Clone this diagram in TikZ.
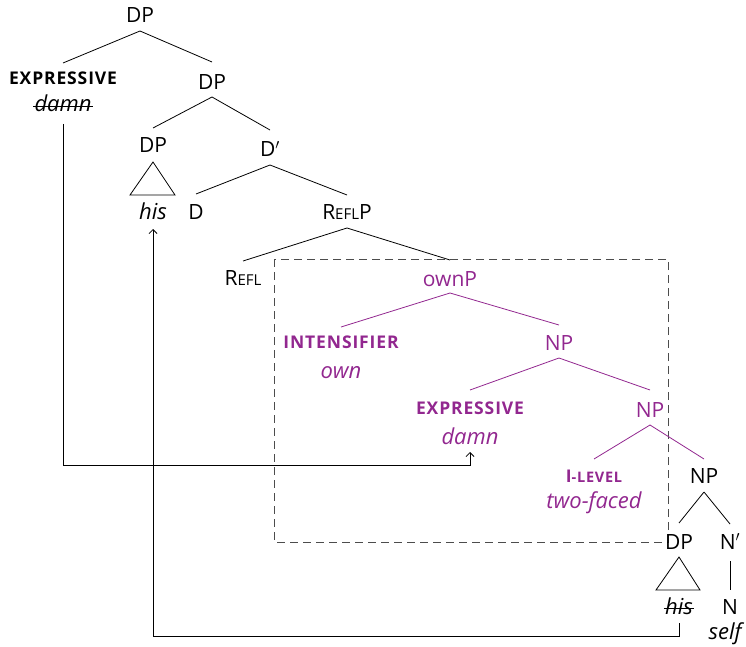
\documentclass[tikz,border=0pt]{standalone}
\usepackage{fontspec}
\setmainfont{Open Sans}
\usetikzlibrary{arrows.meta}
\definecolor{pur}{RGB}{146,39,143}
\newcommand{\reg}{\fontsize{21}{25}\selectfont}
\newcommand{\ital}{\fontsize{22}{26}\selectfont\itshape}
\newcommand{\lab}{\fontsize{17.5}{20}\selectfont\bfseries\addfontfeature{LetterSpace=5}}
\newcommand{\smc}{\fontsize{15}{17}\selectfont}
\newcommand{\bsmc}{\fontsize{14.5}{16}\selectfont\bfseries\addfontfeature{LetterSpace=5}}
\tikzset{
  lbl/.style={anchor=base, inner sep=0pt, font=\reg},
  cat/.style={anchor=base, inner sep=0pt, font=\lab},
  wrd/.style={anchor=base, inner sep=0pt, font=\ital},
  tree/.style={line width=0.8pt},
  mv/.style={line width=0.8pt, -{Straight Barb[length=4pt,width=8pt]}},
  box/.style={draw=black!70, line width=0.8pt, dash pattern=on 8pt off 5pt},
  strike/.style={line width=0.8pt},
  tri/.style={draw, line width=0.8pt}
}
\begin{document}
\begin{tikzpicture}[x=1pt,y=-1pt]
\useasboundingbox (0,0) rectangle (746,647);
% dashed box
\draw[box] (274,259) rectangle (668,542);
% black nodes
\node[lbl] (dp1) at (140,23) {DP};
\node[cat] (ex1) at (63,85) {EXPRESSIVE};
\node[wrd] (dm1) at (63,112) {damn};
\node[lbl] (dp2) at (212,90) {DP};
\node[lbl] (dp3) at (153,153) {DP};
\node[wrd] (his1) at (153,219) {his};
\node[lbl] (dbar) at (270,157) {D$'$};
\node[lbl] (d) at (196,219) {D};
\node[lbl] (reflp) at (347,219) {R{\smc EFL}P};
\node[lbl] (refl) at (243,285) {R{\smc EFL}};
% purple nodes
\node[lbl, text=pur] (ownp) at (450,286) {ownP};
\node[cat, text=pur] (int) at (341,348) {INTENSIFIER};
\node[wrd, text=pur] (own) at (341,378) {own};
\node[lbl, text=pur] (np1) at (559,350) {NP};
\node[cat, text=pur] (ex2) at (470,414) {EXPRESSIVE};
\node[wrd, text=pur] (dm2) at (470,444) {damn};
\node[lbl, text=pur] (np2) at (650,417) {NP};
\node[cat, text=pur] (ilev) at (594,482) {I{\bsmc -LEVEL}};
\node[wrd, text=pur] (two) at (594,508) {two-faced};
% lower black
\node[lbl] (np3) at (704,483) {NP};
\node[lbl] (dp4) at (679,549) {DP};
\node[lbl] (nbar) at (730,549) {N$'$};
\node[wrd] (his2) at (679,614) {his};
\node[lbl] (n) at (730,614) {N};
\node[wrd] (self) at (725,639) {self};
% strike-throughs
\draw[strike] ([xshift=-1pt,yshift=5.5pt]dm1.base west) -- ([xshift=1pt,yshift=5.5pt]dm1.base east);
\draw[strike] ([xshift=-1pt,yshift=5.5pt]his2.base west) -- ([xshift=1pt,yshift=5.5pt]his2.base east);
% tree edges (black)
\draw[tree] ([yshift=-8pt]dp1.base) -- ([yshift=22pt]ex1.base);
\draw[tree] ([yshift=-8pt]dp1.base) -- ([yshift=28pt]dp2.base);
\draw[tree] ([yshift=-7pt]dp2.base) -- ([yshift=25pt]dp3.base);
\draw[tree] ([yshift=-7pt]dp2.base) -- ([yshift=27pt]dbar.base);
\draw[tree] ([yshift=-8pt]dbar.base) -- ([yshift=25pt]d.base);
\draw[tree] ([yshift=-8pt]dbar.base) -- ([yshift=24pt]reflp.base);
\draw[tree] ([yshift=-9pt]reflp.base) -- ([yshift=24pt]refl.base);
\draw[tree] ([yshift=-9pt]reflp.base) -- ([yshift=26pt]ownp.base);
\draw[tree] ([yshift=-9pt]np3.base) -- ([yshift=26pt]dp4.base);
\draw[tree] ([yshift=-9pt]np3.base) -- ([yshift=25pt]nbar.base);
\draw[tree] ([yshift=-12pt]nbar.base) -- ([yshift=24pt]n.base);
% triangles
\draw[tri] ([yshift=-9pt]dp3.base) -- ([xshift=-23pt,yshift=-42pt]dp3.base) -- ([xshift=22pt,yshift=-42pt]dp3.base) -- cycle;
\draw[tri] ([yshift=-8pt]dp4.base) -- ([xshift=-23pt,yshift=-41pt]dp4.base) -- ([xshift=21pt,yshift=-41pt]dp4.base) -- cycle;
% tree edges (purple)
\draw[tree, pur] ([yshift=-7pt]ownp.base) -- ([yshift=21pt]int.base);
\draw[tree, pur] ([yshift=-7pt]ownp.base) -- ([yshift=25pt]np1.base);
\draw[tree, pur] ([yshift=-8pt]np1.base) -- ([yshift=24pt]ex2.base);
\draw[tree, pur] ([yshift=-8pt]np1.base) -- ([yshift=27pt]np2.base);
\draw[tree, pur] ([yshift=-8pt]np2.base) -- ([yshift=23pt]ilev.base);
\draw[tree, pur] ([yshift=-8pt]np2.base) -- ([yshift=24pt]np3.base);
% movement arrows
\coordinate (c1) at (63,465);
\coordinate (c2) at (679,636);
\draw[mv] ([yshift=-12pt]dm1.base) -- (c1) -| ([yshift=-8pt]dm2.base);
\draw[mv] ([yshift=-9pt]his2.base) -- (c2) -| ([yshift=-10pt]his1.base);
\end{tikzpicture}
\end{document}
